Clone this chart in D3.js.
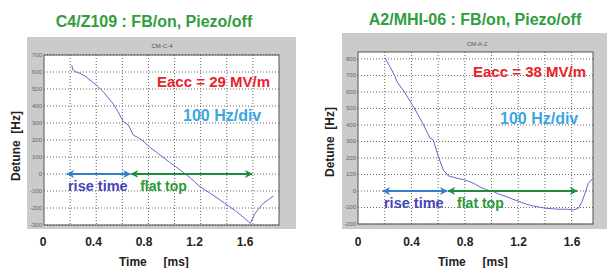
<!DOCTYPE html>
<html>
<head>
<meta charset="utf-8">
<script src="https://cdn.jsdelivr.net/npm/d3@7"></script>
<style>
  body { margin: 0; background: #fff; }
  svg { display: block; font-family: "Liberation Sans", Arial, sans-serif; }
</style>
</head>
<body>
<svg width="607" height="268"></svg>
<script>
// detune traces: time in ms, detune in Hz
var timeC4 = [0.212, 0.222, 0.245, 0.276, 0.314, 0.36, 0.416, 0.46, 0.506, 0.54, 0.567, 0.608, 0.646, 0.684, 0.72, 0.749, 0.82, 0.889, 0.96, 1.042, 1.12, 1.195, 1.27, 1.349, 1.41, 1.476, 1.53, 1.566, 1.58, 1.617, 1.68, 1.72, 1.757]
var detuneC4 = [641, 612, 600, 592, 576, 548, 514, 478, 435, 402, 366, 308, 288, 229, 214, 200, 152, 112, 70, 24, -22, -75, -112, -153, -186, -222, -256, -281, -290, -231, -172, -150, -129]

var timeA2 = [0.202, 0.24, 0.277, 0.29, 0.352, 0.414, 0.477, 0.539, 0.564, 0.602, 0.639, 0.676, 0.739, 0.8, 0.839, 0.88, 0.914, 0.96, 1.014, 1.06, 1.114, 1.16, 1.213, 1.26, 1.313, 1.36, 1.413, 1.46, 1.513, 1.56, 1.613, 1.651, 1.68, 1.70, 1.725, 1.76]
var detuneA2 = [806, 752, 695, 665, 594, 513, 422, 321, 309, 208, 127, 92, 78, 66, 56, 40, 24, 8, -4, -20, -35, -50, -65, -80, -91, -98, -105, -108, -111, -110, -115, -105, -60, -14, 47, 77]

// tick labels
var xLabels = ['0', '0.4', '0.8', '1.2', '1.6']
var yTicksC4 = d3.range(-300, 701, 100)
var yTicksA2 = d3.range(-200, 801, 100)

// rise time / flat top markers, ms
var phasesC4 = [0.176, 0.66, 1.594]
var phasesA2 = [0.187, 0.667, 1.64]

var svg = d3.select('svg')

var defs = svg.append('defs')
function marker (id, color) {
  defs.append('marker')
    .attr('id', id)
    .attr('viewBox', '0 0 10 10')
    .attr('refX', 9).attr('refY', 5)
    .attr('markerWidth', 4).attr('markerHeight', 4)
    .attr('orient', 'auto-start-reverse')
    .append('path')
    .attr('d', 'M0,0 L10,5 L0,10 L3,5 z')
    .attr('fill', color)
}
marker('headBlue', '#2f80cf')
marker('headGreen', '#1f8c3c')

function panel (cfg) {
  var g = svg.append('g')

  // grey figure background
  g.append('rect')
    .attr('x', cfg.bg[0]).attr('y', cfg.bg[1])
    .attr('width', cfg.bg[2]).attr('height', cfg.bg[3])
    .attr('fill', '#cbcbcb')

  var x = d3.scaleLinear().domain(cfg.xDomain).range([cfg.plot[0], cfg.plot[2]])
  var y = d3.scaleLinear().domain(cfg.yDomain).range([cfg.plot[3], cfg.plot[1]])

  g.append('rect')
    .attr('x', cfg.plot[0]).attr('y', cfg.plot[1])
    .attr('width', cfg.plot[2] - cfg.plot[0]).attr('height', cfg.plot[3] - cfg.plot[1])
    .attr('fill', '#fff')

  // dotted grid
  g.selectAll('.gx')
    .data(d3.range(0.2, cfg.xDomain[1] - 0.01, 0.2))
    .enter().append('line')
    .attr('x1', (d) => x(d)).attr('x2', (d) => x(d))
    .attr('y1', cfg.plot[1]).attr('y2', cfg.plot[3])
    .attr('stroke', '#666').attr('stroke-dasharray', '1,2')
  g.selectAll('.gy')
    .data(cfg.yTicks)
    .enter().append('line')
    .attr('x1', cfg.plot[0]).attr('x2', cfg.plot[2])
    .attr('y1', (d) => y(d)).attr('y2', (d) => y(d))
    .attr('stroke', '#666').attr('stroke-dasharray', '1,2')

  g.append('rect')
    .attr('x', cfg.plot[0]).attr('y', cfg.plot[1])
    .attr('width', cfg.plot[2] - cfg.plot[0]).attr('height', cfg.plot[3] - cfg.plot[1])
    .attr('fill', 'none').attr('stroke', '#555')

  // tiny y tick labels
  g.selectAll('.yl')
    .data(cfg.yTicks)
    .enter().append('text')
    .attr('x', cfg.plot[0] - 2).attr('y', (d) => y(d) + 2)
    .attr('text-anchor', 'end')
    .attr('font-size', 6).attr('fill', '#666')
    .text((d) => d)

  g.append('text')
    .attr('x', cfg.cm[0]).attr('y', cfg.cm[1])
    .attr('text-anchor', 'middle')
    .attr('font-size', 6).attr('fill', '#555')
    .text(cfg.cmName)

  // the trace
  var line = d3.line().x((d) => x(d[0])).y((d) => y(d[1]))
  g.append('path')
    .datum(d3.zip(cfg.time, cfg.detune))
    .attr('d', line)
    .attr('fill', 'none')
    .attr('stroke', '#6666c8')
    .attr('stroke-width', 1)

  // arrows on the 0 Hz line
  var p = cfg.phases
  g.append('line')
    .attr('x1', x(p[0])).attr('x2', x(p[1]))
    .attr('y1', y(0)).attr('y2', y(0))
    .attr('stroke', '#2f80cf').attr('stroke-width', 2)
    .attr('marker-start', 'url(#headBlue)').attr('marker-end', 'url(#headBlue)')
  g.append('line')
    .attr('x1', x(p[1]) + 1).attr('x2', x(p[2]))
    .attr('y1', y(0)).attr('y2', y(0))
    .attr('stroke', '#1f8c3c').attr('stroke-width', 2)
    .attr('marker-start', 'url(#headGreen)').attr('marker-end', 'url(#headGreen)')

  g.append('text')
    .attr('x', x(p[0]) + 1).attr('y', y(0) + cfg.phaseDy)
    .attr('font-size', 14.5).attr('font-weight', 'bold').attr('fill', '#4646b4')
    .text('rise time')
  g.append('text')
    .attr('x', x(p[1]) + 10).attr('y', y(0) + cfg.phaseDy)
    .attr('font-size', 14).attr('font-weight', 'bold').attr('fill', '#2a9a3a')
    .text('flat top')

  // annotations
  g.append('text')
    .attr('x', cfg.eacc[0]).attr('y', cfg.eacc[1])
    .attr('font-size', 15).attr('font-weight', 'bold').attr('fill', '#e8232b')
    .text(cfg.eaccText)
  g.append('text')
    .attr('x', cfg.div[0]).attr('y', cfg.div[1])
    .attr('font-size', 16).attr('font-weight', 'bold').attr('fill', '#3ba6e2')
    .text('100 Hz/div')

  // title
  g.append('text')
    .attr('x', cfg.title[0]).attr('y', cfg.title[1])
    .attr('text-anchor', 'middle')
    .attr('font-size', 16).attr('font-weight', 'bold').attr('fill', '#2f9e3e')
    .text(cfg.titleText)

  // overlaid time labels
  var xl = d3.scaleLinear().domain([0, 1.6]).range(cfg.labelRange)
  g.selectAll('.xl')
    .data(xLabels)
    .enter().append('text')
    .attr('x', (d) => xl(+d)).attr('y', 246)
    .attr('text-anchor', 'middle')
    .attr('font-size', 12).attr('font-weight', 'bold').attr('fill', '#222')
    .text((d) => d)

  g.append('text')
    .attr('x', cfg.timeX).attr('y', 266)
    .attr('font-size', 12).attr('font-weight', 'bold').attr('fill', '#222')
    .attr('xml:space', 'preserve')
    .text('Time     [ms]')

  g.append('text')
    .attr('transform', 'translate(' + cfg.ylab[0] + ',' + cfg.ylab[1] + ') rotate(-90)')
    .attr('text-anchor', 'middle')
    .attr('font-size', 12).attr('font-weight', 'bold').attr('fill', '#222')
    .attr('xml:space', 'preserve')
    .text('Detune  [Hz]')
}

panel({
  bg: [27, 37, 269, 192],
  plot: [44, 55, 279, 225],
  xDomain: [0, 1.8],
  yDomain: [-300, 700],
  yTicks: yTicksC4,
  time: timeC4,
  detune: detuneC4,
  phases: phasesC4,
  phaseDy: 17,
  cm: [162, 48],
  cmName: 'CM-C-4',
  eacc: [157, 87],
  eaccText: 'Eacc = 29 MV/m',
  div: [183, 121],
  title: [154, 27],
  titleText: 'C4/Z109 : FB/on, Piezo/off',
  labelRange: [43, 245],
  timeX: 119,
  ylab: [20, 146]
})

panel({
  bg: [342, 33, 265, 196],
  plot: [358, 52, 593, 224],
  xDomain: [0, 1.76],
  yDomain: [-200, 842],
  yTicks: yTicksA2,
  time: timeA2,
  detune: detuneA2,
  phases: phasesA2,
  phaseDy: 17,
  cm: [477, 46],
  cmName: 'CM-A-2',
  eacc: [473, 77],
  eaccText: 'Eacc = 38 MV/m',
  div: [500, 124],
  title: [475, 25],
  titleText: 'A2/MHI-06 : FB/on, Piezo/off',
  labelRange: [358, 572],
  timeX: 438,
  ylab: [334, 142]
})
</script>
</body>
</html>
